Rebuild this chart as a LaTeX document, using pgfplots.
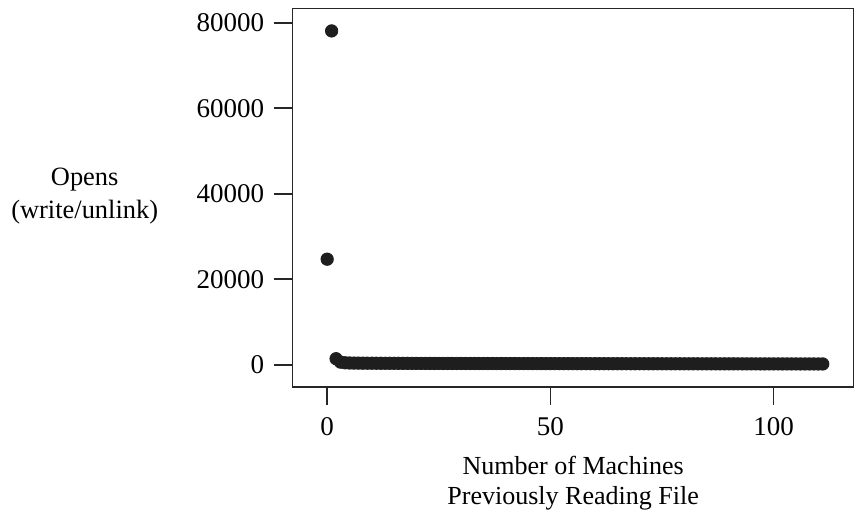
\documentclass[border=0pt]{standalone}
\usepackage{fontspec}
\setmainfont{Liberation Serif}
\usepackage{pgfplots}
\pgfplotsset{compat=1.18}
\definecolor{dotcol}{HTML}{1E1E1E}
\begin{document}
\begin{tikzpicture}
\useasboundingbox (-146pt,-62.65pt) rectangle (280.5pt,193.35pt);
\begin{axis}[
  at={(0,0)}, anchor=south west,
  scale only axis, width=280.5pt, height=189pt,
  xmin=-7.8, xmax=118, ymin=-5250, ymax=83300,
  xtick={0,50,100}, ytick={0,20000,40000,60000,80000},
  scaled y ticks=false,
  yticklabel style={/pgf/number format/1000 sep={}, xshift=-1.5pt},
  xticklabel style={yshift=-2.5pt},
  tick align=outside, major tick length=9pt,
  xtick pos=bottom, ytick pos=left,
  axis line style={line width=0.8pt, black!85}, tick style={line width=0.8pt, black!85},
  /pgf/number format/assume math mode=true,
  tick label style={font=\fontsize{13.5}{16}\selectfont},
  clip=false,
]
\addplot[only marks, mark=*, mark size=3.1pt, color=dotcol] coordinates {
(0,24690) (1,78100) (2,1400)
(3,600) (4,450) (5,400) (6,380) (7,370) (8,360) (9,355) (10,350)
(11,345) (12,340) (13,335) (14,330) (15,330) (16,325) (17,320) (18,320) (19,315) (20,310)
(21,310) (22,305) (23,300) (24,300) (25,300) (26,295) (27,295) (28,290) (29,290) (30,285)
(31,285) (32,280) (33,280) (34,280) (35,275) (36,275) (37,270) (38,270) (39,270) (40,265)
(41,265) (42,265) (43,260) (44,260) (45,260) (46,255) (47,255) (48,255) (49,250) (50,250)
(51,250) (52,250) (53,245) (54,245) (55,245) (56,240) (57,240) (58,240) (59,240) (60,235)
(61,235) (62,235) (63,235) (64,230) (65,230) (66,230) (67,230) (68,225) (69,225) (70,225)
(71,225) (72,220) (73,220) (74,220) (75,220) (76,215) (77,215) (78,215) (79,215) (80,210)
(81,210) (82,210) (83,210) (84,205) (85,205) (86,205) (87,205) (88,200) (89,200) (90,200)
(91,200) (92,200) (93,195) (94,195) (95,195) (96,195) (97,190) (98,190) (99,190) (100,190)
(101,190) (102,185) (103,185) (104,185) (105,185) (106,180) (107,180) (108,180) (109,180) (110,175)
(111,175)
};
\node[align=center, anchor=north, font=\fontsize{13}{15}\selectfont] at (rel axis cs:0.5,0) [yshift=-31pt] {Number of Machines\\Previously Reading File};
\node[align=center, anchor=east, font=\fontsize{13.2}{16.5}\selectfont] at (rel axis cs:0,0.5) [xshift=-63.5pt, yshift=1pt] {Opens\\(write/unlink)};
\end{axis}
\end{tikzpicture}
\end{document}
